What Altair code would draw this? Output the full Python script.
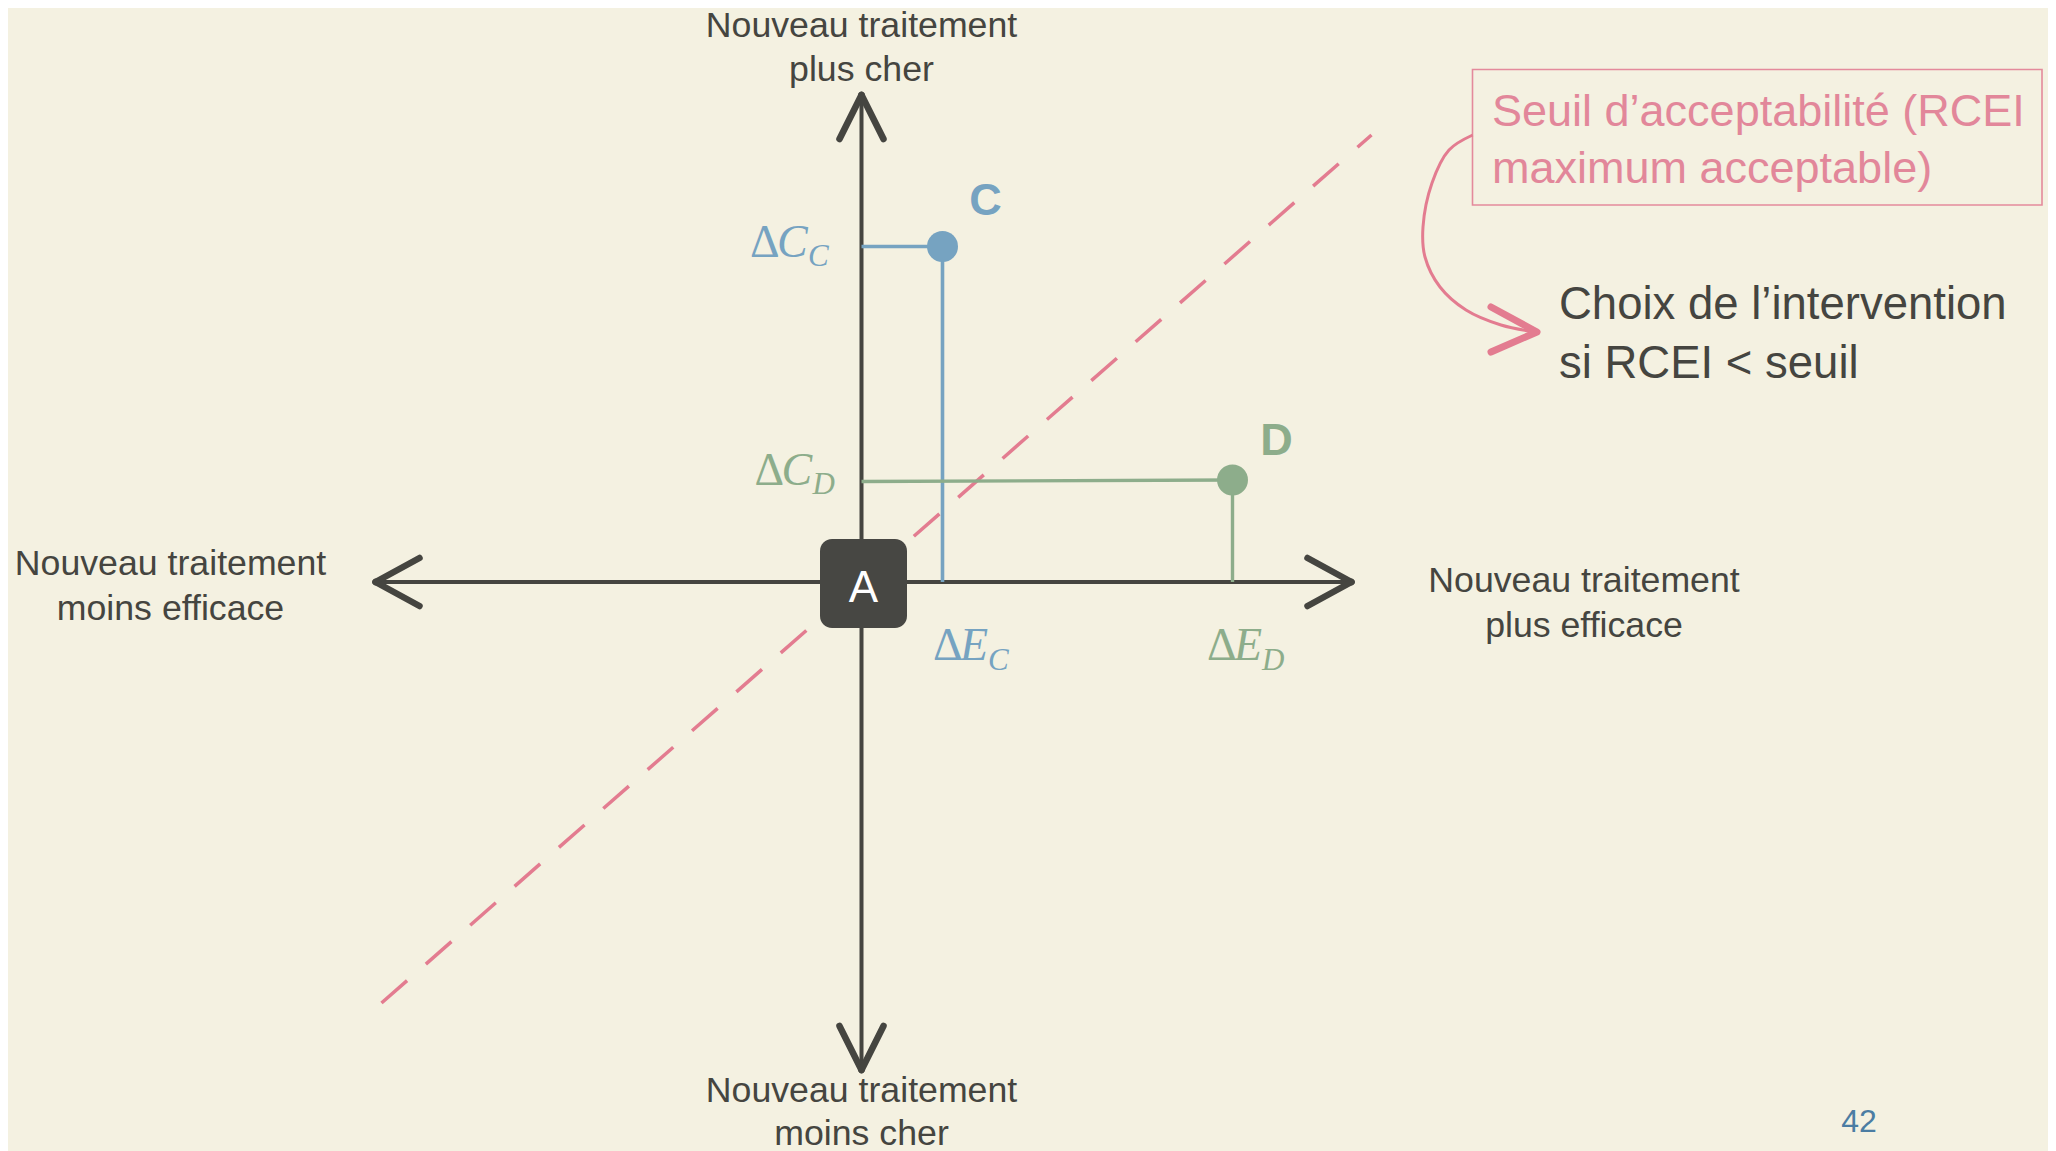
import altair as alt
import pandas as pd

# ---------------- data (diagram coordinates: ΔE horizontal, ΔC vertical, origin = A) -------------
point_names = ["C", "D"]
point_dE = [81, 371]
point_dC = [335.5, 102]
point_colors = ["#76A3C1", "#8DAD8B"]
# label letter positions (centre u, baseline v)
letter_u = [124, 415]
letter_v = [367, 127]

axis_min_E, axis_max_E = -486, 490
axis_min_C, axis_max_C = -488, 487

threshold_from = (-480, -421)
threshold_to = (510, 447)

quadrant_labels = [
    ("Nouveau traitement", 0, 545), ("plus cher", 0, 501),
    ("Nouveau traitement", 0, -519.5), ("moins cher", 0, -563),
    ("Nouveau traitement", -691, 7), ("moins efficace", -691, -38),
    ("Nouveau traitement", 722.5, -10), ("plus efficace", 722.5, -55),
]
threshold_lines = [("Seuil d\u2019acceptabilit\u00e9 (RCEI", 630.5, 456), ("maximum acceptable)", 630.5, 399)]
choice_lines = [("Choix de l\u2019intervention", 697.5, 263), ("si RCEI < seuil", 697.5, 204)]
threshold_box = (611, 1180.5, 512.5, 377)

curve_u = [611.2, 587.5, 570.5, 561.5, 563.5, 578.5, 604.5, 639.5, 673.5]
curve_v = [447, 432, 399, 355, 325, 295, 272, 257, 250]
curve_head = [(629.5, 275), (675.5, 250), (629.5, 230)]

# math labels: (delta_u, letter, letter_u, sub, sub_u, v_main, v_sub, colour)
math_labels = [
    (-111.5, "C", -84.5, "C", -53.5, 325.3, 316, "#76A3C1"),
    (-107, "C", -80, "D", -49, 97, 88, "#8DAD8B"),
    (71.5, "E", 98.5, "C", 126.5, -78, -88, "#76A3C1"),
    (345.5, "E", 372.5, "D", 400.5, -78, -88, "#8DAD8B"),
]

DARK = "#454540"
PINK = "#E37C90"
PINK_TXT = "#E2879A"
BG = "#F4F1E1"
FONT = "Liberation Sans"
MATH_FONT = "Liberation Serif"

W, H = 2040, 1143
XS = alt.Scale(domain=[-853.5, 1186.5], nice=False, zero=False)
YS = alt.Scale(domain=[-569, 574], nice=False, zero=False)


def X(f):
    return alt.X(f, type="quantitative", scale=XS, axis=None)


def Y(f):
    return alt.Y(f, type="quantitative", scale=YS, axis=None)


def seg_layer(rows, **mark):
    df = pd.DataFrame(rows, columns=["x", "y", "x2", "y2"])
    return alt.Chart(df).mark_rule(**mark).encode(
        x=X("x"), y=Y("y"), x2="x2:Q", y2="y2:Q"
    )


# axes
axes = seg_layer([(0, axis_min_C, 0, axis_max_C), (axis_min_E, 0, axis_max_E, 0)],
                 color=DARK, strokeWidth=4)
hl, hw = 44, 22
heads = seg_layer([
    (0, axis_max_C, -hw, axis_max_C - hl), (0, axis_max_C, hw, axis_max_C - hl),
    (0, axis_min_C, -hw, axis_min_C + hl), (0, axis_min_C, hw, axis_min_C + hl),
    (axis_min_E, 0, axis_min_E + hl, hw + 2), (axis_min_E, 0, axis_min_E + hl, -hw - 2),
    (axis_max_E, 0, axis_max_E - hl, hw + 2), (axis_max_E, 0, axis_max_E - hl, -hw - 2),
], color=DARK, strokeWidth=6.5, strokeCap="round")

threshold = seg_layer([(*threshold_from, *threshold_to)], color=PINK, strokeWidth=3.5,
                      strokeDash=[34, 25])

conn_c = seg_layer([(0, point_dC[0], point_dE[0], point_dC[0]),
                    (point_dE[0], point_dC[0], point_dE[0], 0)],
                   color=point_colors[0], strokeWidth=3.6)
conn_d = seg_layer([(0, point_dC[1] - 1.5, point_dE[1], point_dC[1]),
                    (point_dE[1], point_dC[1], point_dE[1], 0)],
                   color=point_colors[1], strokeWidth=3.4)

pts = pd.DataFrame({"name": point_names, "dE": point_dE, "dC": point_dC,
                    "lu": letter_u, "lv": letter_v})
pcolor = alt.Color("name:N", scale=alt.Scale(domain=point_names, range=point_colors), legend=None)
dots = alt.Chart(pts).mark_circle(size=960, opacity=1).encode(x=X("dE"), y=Y("dC"), color=pcolor)
letters = alt.Chart(pts).mark_text(font=FONT, fontSize=45, fontWeight="bold",
                                   baseline="alphabetic", align="center").encode(
    x=X("lu"), y=Y("lv"), text="name:N", color=pcolor)

box_a = alt.Chart(pd.DataFrame({"x": [-41.5], "x2": [45.5], "y": [43], "y2": [-46]})).mark_rect(
    color="#474743", cornerRadius=12).encode(x=X("x"), x2="x2:Q", y=Y("y"), y2="y2:Q")
text_a = alt.Chart(pd.DataFrame({"t": ["A"], "x": [2], "y": [-19.7]})).mark_text(
    font=FONT, fontSize=44, color="white", baseline="alphabetic", align="center").encode(
    x=X("x"), y=Y("y"), text="t:N")


def text_layer(rows, **mark):
    df = pd.DataFrame(rows, columns=["t", "x", "y"])
    return alt.Chart(df).mark_text(font=FONT, baseline="alphabetic", **mark).encode(
        x=X("x"), y=Y("y"), text="t:N")


quad = text_layer(quadrant_labels, fontSize=35.7, color=DARK, align="center")
thr_txt = text_layer(threshold_lines, fontSize=45, color=PINK_TXT, align="left")
choice_txt = text_layer(choice_lines, fontSize=45.5, color=DARK, align="left")
page_no = text_layer([("42", 997.5, -550)], fontSize=32, color="#4B7DA3", align="center")

bx = threshold_box
thr_box = alt.Chart(pd.DataFrame({"x": [bx[0]], "x2": [bx[1]], "y": [bx[2]], "y2": [bx[3]]})).mark_rect(
    fillOpacity=0, stroke="#E48A9C", strokeWidth=1.6).encode(x=X("x"), x2="x2:Q", y=Y("y"), y2="y2:Q")

curve_df = pd.DataFrame({"u": curve_u, "v": curve_v, "o": list(range(len(curve_u)))})
curve = alt.Chart(curve_df).mark_line(color=PINK, strokeWidth=3, interpolate="catmull-rom").encode(
    x=X("u"), y=Y("v"), order="o:Q")
head_df = pd.DataFrame({"u": [p[0] for p in curve_head], "v": [p[1] for p in curve_head],
                        "o": [0, 1, 2]})
curve_head_l = alt.Chart(head_df).mark_line(color=PINK, strokeWidth=7, strokeCap="round",
                                            strokeJoin="round").encode(
    x=X("u"), y=Y("v"), order="o:Q")

math_df = pd.DataFrame(math_labels, columns=["du", "let", "lu", "sub", "su", "vm", "vs", "col"])
math_df["delta"] = "\u0394"
mcolor = alt.Color("col:N", scale=None)
math_delta = alt.Chart(math_df).mark_text(font=MATH_FONT, fontSize=46,
                                          baseline="alphabetic", align="left").encode(
    x=X("du"), y=Y("vm"), text="delta:N", color=mcolor)
math_letter = alt.Chart(math_df).mark_text(font=MATH_FONT, fontStyle="italic", fontSize=46,
                                           baseline="alphabetic", align="left").encode(
    x=X("lu"), y=Y("vm"), text="let:N", color=mcolor)
math_sub = alt.Chart(math_df).mark_text(font=MATH_FONT, fontStyle="italic", fontSize=31,
                                        baseline="alphabetic", align="left").encode(
    x=X("su"), y=Y("vs"), text="sub:N", color=mcolor)

chart = alt.layer(
    threshold, axes, heads, conn_c, conn_d, dots, letters, box_a, text_a,
    quad, thr_box, thr_txt, choice_txt, curve, curve_head_l,
    math_delta, math_letter, math_sub, page_no,
).properties(
    width=W, height=H, background=BG, padding=0, autosize=alt.AutoSizeParams(type="none")
).configure_view(stroke=None)

chart.save("out.html", embed_options={"renderer": "svg", "actions": False})
